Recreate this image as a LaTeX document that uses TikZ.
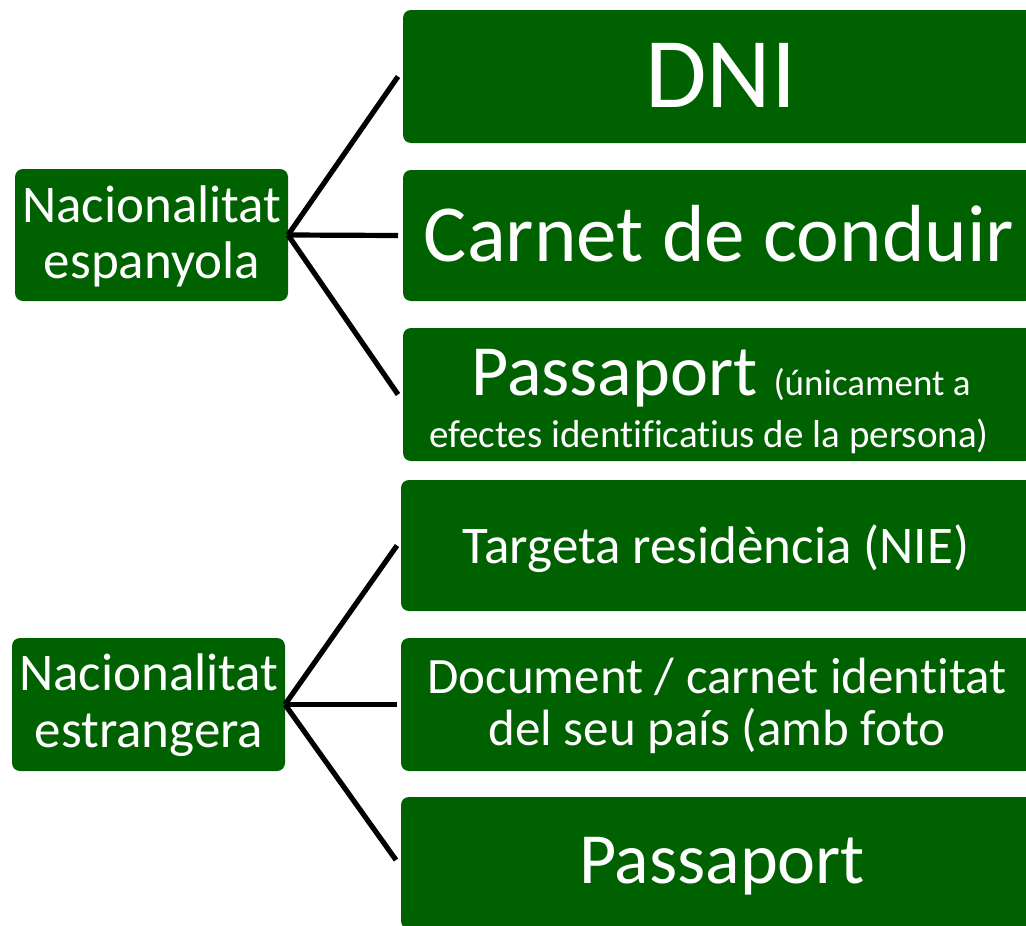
\documentclass[tikz,border=0pt]{standalone}
\usepackage{fontspec}
\setmainfont{Carlito}[Ligatures={NoCommon}]
\definecolor{boxgreen}{RGB}{0,97,0}
\begin{document}
\begin{tikzpicture}[x=1pt,y=-1pt,
  gbox/.style={fill=boxgreen, draw=none, rounded corners=8pt, inner sep=0pt, outer sep=0pt},
  txt/.style={text=white, inner sep=0pt, anchor=base},
  conn/.style={draw=black, line width=5.2pt}]
\useasboundingbox (0,0) rectangle (1026,926);
% left boxes
\node[gbox, minimum width=273pt, minimum height=132pt] (esp) at (151.5,235) {};
\node[gbox, minimum width=273pt, minimum height=133pt] (est) at (148.5,704.5) {};
% right boxes
\node[gbox, minimum width=630pt, minimum height=133pt] (dni) at (718,76.5) {};
\node[gbox, minimum width=630pt, minimum height=131pt] (car) at (718,235.5) {};
\node[gbox, minimum width=630pt, minimum height=133pt] (pas1) at (718,394.5) {};
\node[gbox, minimum width=632pt, minimum height=131pt] (tar) at (717,545.5) {};
\node[gbox, minimum width=632pt, minimum height=133pt] (doc) at (717,704.5) {};
\node[gbox, minimum width=632pt, minimum height=132pt] (pas2) at (717,863) {};
% texts
\node[txt, font=\fontsize{53}{53}\selectfont] (tesp1) at (152,222) {Nacionalitat};
\node[txt, font=\fontsize{53}{53}\selectfont] (tesp2) at (152,278) {espanyola};
\node[txt, font=\fontsize{53}{53}\selectfont] (test1) at (149,690) {Nacionalitat};
\node[txt, font=\fontsize{53}{53}\selectfont] (test2) at (149,747) {estrangera};
\node[txt, font=\fontsize{100}{100}\selectfont] (tdni) at (721,107) {DNI};
\node[txt, font=\fontsize{81}{81}\selectfont] (tcar) at (719,261) {Carnet de conduir};
\node[txt] (tpas1a) at (721,395) {\fontsize{72}{72}\selectfont Passaport \fontsize{37}{37}\selectfont(únicament a};
\node[txt, font=\fontsize{39}{39}\selectfont] (tpas1b) at (709,447) {efectes identificatius de la persona)};
\node[txt, font=\fontsize{53}{53}\selectfont] (ttar) at (716,563) {Targeta residència (NIE)};
\node[txt, font=\fontsize{51}{51}\selectfont] (tdoc1) at (717,693) {Document / carnet identitat};
\node[txt, font=\fontsize{51}{51}\selectfont] (tdoc2) at (717,745) {del seu país (amb foto};
\node[txt, font=\fontsize{72}{72}\selectfont] (tpas2) at (722,883) {Passaport};
% connectors
\coordinate (e1) at ([xshift=-5pt]dni.west);
\coordinate (e2) at ([xshift=-5pt]car.west);
\coordinate (e3) at ([xshift=-5pt]pas1.west);
\coordinate (e4) at ([xshift=-4pt]tar.west);
\coordinate (e5) at ([xshift=-4pt]doc.west);
\coordinate (e6) at ([xshift=-5pt,yshift=3pt]pas2.west);
\draw[conn] (esp.east) -- (e1);
\draw[conn] (esp.east) -- (e2);
\draw[conn] (esp.east) -- (e3);
\draw[conn] (est.east) -- (e4);
\draw[conn] (est.east) -- (e5);
\draw[conn] (est.east) -- (e6);
\end{tikzpicture}
\end{document}
